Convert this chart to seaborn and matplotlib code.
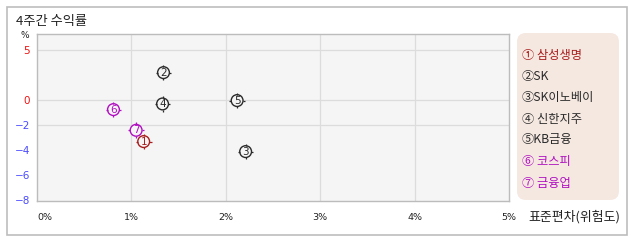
import numpy as np
import pandas as pd
import matplotlib
matplotlib.use("Agg")
import matplotlib.pyplot as plt
from matplotlib.patches import FancyBboxPatch, Rectangle
from matplotlib.path import Path
import seaborn as sns

# ---- data ----
labels = ["삼성생명", "SK", "SK이노베이", "신한지주", "KB금융", "코스피", "금융업"]
numbers = ["1", "2", "3", "4", "5", "6", "7"]
legend_texts = ["① 삼성생명", "②SK", "③SK이노베이", "④ 신한지주", "⑤KB금융", "⑥ 코스피", "⑦ 금융업"]
risk = [1.13, 1.34, 2.21, 1.33, 2.12, 0.81, 1.05]        # 표준편차 (%)
ret = [-3.3, 2.75, -4.1, -0.3, -0.03, -0.75, -2.4]        # 4주간 수익률 (%)
colors = ["#a81e1e", "#2a2a2a", "#2a2a2a", "#2a2a2a", "#2a2a2a", "#b010c0", "#b010c0"]
xticks = [0, 1, 2, 3, 4, 5]
xtick_labels = ["0%", "1%", "2%", "3%", "4%", "5%"]
yticks = [5, 0, -2, -4, -6, -8]
ytick_labels = ["5", "0", "−2", "−4", "−6", "−8"]
ytick_colors = ["#ee1111", "#ee1111", "#4a4aff", "#4a4aff", "#4a4aff", "#4a4aff"]
ygrid = [5, 0, -2]

df = pd.DataFrame({"name": labels, "risk": risk, "ret": ret})

sns.set_theme(style="white")
plt.rcParams["font.family"] = ["Noto Sans CJK KR", "DejaVu Sans"]

W, H = 638, 242
BG = "#f5f5f5"
fig = plt.figure(figsize=(W / 100, H / 100), dpi=100)
fig.patch.set_facecolor("white")

# outer frame
fig.patches.append(Rectangle((7 / W, 1 - 235 / H), 620 / W, 228 / H, transform=fig.transFigure,
                             facecolor="none", edgecolor="#bdbdbd", linewidth=1.2))

left, right, top, bottom = 37, 509, 34, 200.5
ax = fig.add_axes([left / W, 1 - bottom / H, (right - left) / W, (bottom - top) / H])
ax.set_facecolor(BG)

def fwd(y):
    y = np.asarray(y, dtype=float)
    return np.where(y >= 0, y, 1.25 * y)

def inv(y):
    y = np.asarray(y, dtype=float)
    return np.where(y >= 0, y, y / 1.25)

ax.set_yscale("function", functions=(fwd, inv))
ax.set_xlim(0, 5)
ax.set_ylim(-8, 6.6)

for g in ygrid:
    ax.axhline(g, color="#dcdcdc", lw=0.9, zorder=1)
for g in xticks[1:-1]:
    ax.axvline(g, color="#dcdcdc", lw=0.9, zorder=1)

# tick marks around each circle (marker shape only)
r0 = 0.72
tick_marker = Path([(0, r0), (0, 1), (0, -r0), (0, -1), (r0, 0), (1, 0), (-r0, 0), (-1, 0)],
                   [Path.MOVETO, Path.LINETO] * 4)

pal = dict(zip(labels, colors))
sns.scatterplot(data=df, x="risk", y="ret", hue="name", palette=pal, marker="o",
                s=72, legend=False, ax=ax)
circ = ax.collections[-1]
fc = circ.get_facecolors().copy()
circ.set_facecolors([BG] * len(fc))
circ.set_edgecolors(fc)
circ.set_linewidth(1.0)
circ.set_zorder(4)

sns.scatterplot(data=df, x="risk", y="ret", hue="name", palette=pal, marker=tick_marker,
                s=128, legend=False, ax=ax)
tk = ax.collections[-1]
fc2 = tk.get_facecolors().copy()
tk.set_edgecolors(fc2)
tk.set_facecolors("none")
tk.set_linewidth(0.9)
tk.set_zorder(4)

for xv, yv, n, c in zip(risk, ret, numbers, colors):
    ax.text(xv, yv, n, color=c, fontsize=7.5, ha="center", va="center", zorder=5,
            family="DejaVu Sans")

ax.set_xticks(xticks)
ax.set_xticklabels(xtick_labels, fontsize=6.8, color="#222222", family="DejaVu Sans")
ax.get_xticklabels()[0].set_horizontalalignment("left")
ax.set_yticks(yticks)
ax.set_yticklabels(ytick_labels, fontsize=7.5, family="DejaVu Sans")
for t, c in zip(ax.get_yticklabels(), ytick_colors):
    t.set_color(c)
ax.yaxis.set_minor_locator(matplotlib.ticker.NullLocator())
ax.tick_params(axis="both", length=0)
ax.tick_params(axis="x", pad=9)
ax.tick_params(axis="y", pad=5)
ax.set_xlabel("")
ax.set_ylabel("")
for s in ax.spines.values():
    s.set_color("#bcbcbc")
    s.set_linewidth(1.0)

# texts
fig.text(16 / W, 1 - 21 / H, "4주간 수익률", fontsize=9.5, color="#222222", ha="left", va="center")
fig.text(25 / W, 1 - 36 / H, "%", fontsize=6.5, color="#222222", ha="center", va="center",
         family="DejaVu Sans")
fig.text(528 / W, 1 - 217 / H, "표준편차(위험도)", fontsize=9.3, color="#222222", ha="left", va="center")

# legend box
fig.patches.append(FancyBboxPatch((517 / W, 1 - 200 / H), 102 / W, 167 / H,
                                  boxstyle="round,pad=0,rounding_size=0.014",
                                  transform=fig.transFigure, facecolor="#f5e8e1",
                                  edgecolor="none", mutation_aspect=W / H))
ys = [55, 76, 98, 119, 140, 161, 183]
for yy, txt, col in zip(ys, legend_texts, colors):
    fig.text(522 / W, 1 - yy / H, txt, fontsize=8.8, color=col, ha="left", va="center")

fig.savefig("out.png", dpi=100)
